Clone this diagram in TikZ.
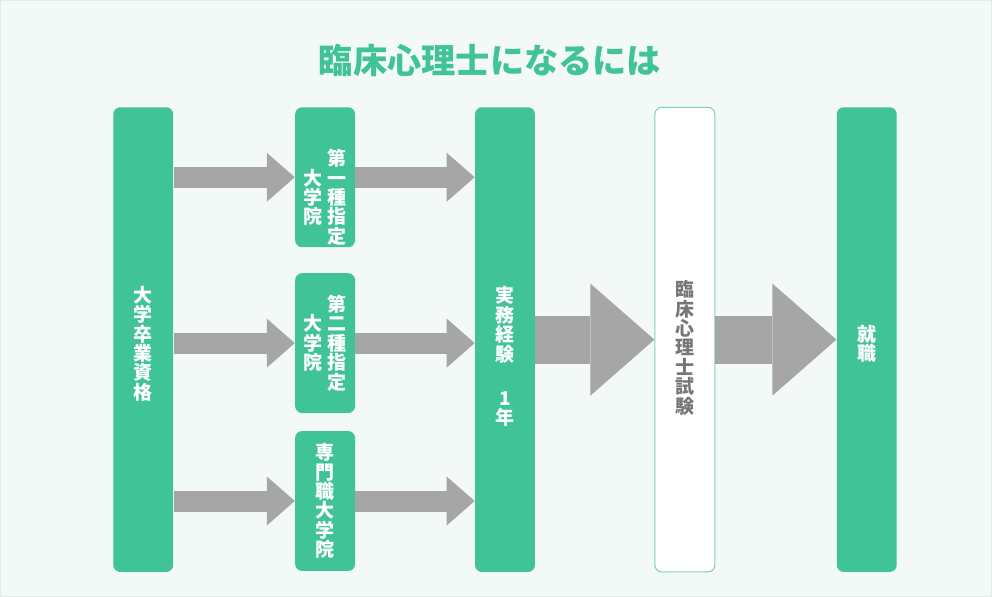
\documentclass[tikz,border=0pt]{standalone}
\usepackage{fontspec}
\setmainfont{Noto Sans CJK JP}
\usetikzlibrary{arrows.meta,positioning}
\definecolor{mint}{HTML}{40C397}
\definecolor{mintline}{HTML}{7FD1B5}
\definecolor{paper}{HTML}{F3F9F7}
\definecolor{paperline}{HTML}{E4ECE9}
\definecolor{arrowgray}{HTML}{A6A6A6}
\definecolor{examtext}{HTML}{777777}
\newcommand{\tate}[2][0pt]{\parbox[c]{1em}{\centering\vspace*{#1}#2}}
\tikzset{box/.style={rectangle,fill=mint,rounded corners=0.14cm,minimum width=1.2cm,inner sep=0pt,text=white,font=\bfseries\fontsize{10.8pt}{11.05pt}\selectfont}}
\tikzset{tall/.style={box,minimum height=9.3cm}}
\tikzset{short/.style={box,minimum height=2.8cm}}
\tikzset{exam/.style={tall,fill=white,draw=mintline,line width=0.6pt,text=examtext}}
\tikzset{flow/.style={draw=arrowgray,line width=0.42cm,-{Triangle[length=0.56cm,width=0.98cm,line width=0pt]}}}
\tikzset{bigflow/.style={draw=arrowgray,line width=0.96cm,-{Triangle[length=1.28cm,width=2.24cm,line width=0pt]}}}

\begin{document}
\begin{tikzpicture}[node distance=3.6cm]
    \fill[paper,draw=paperline] (0,0) rectangle (19.84,-11.92);

    \node[text=mint,font=\bfseries\fontsize{19.5pt}{23pt}\selectfont] (title) at (9.8,-1.2) {臨床心理士になるには};

    \node[tall] (grad) at (2.86,-6.79) {\tate[0.16cm]{大\\学\\卒\\業\\資\\格}};
    \node[tall,right of=grad,node distance=7.24cm] (prac) {\tate[0.68cm]{実\\務\\経\\験\\[0.5cm]1\\年}};
    \node[exam,right of=prac] (exam) {\tate[0.32cm]{臨\\床\\心\\理\\士\\試\\験}};
    \node[tall,right of=exam,node distance=3.64cm] (job) {\tate[0.16cm]{就\\職}};

    \node[short] (sch2) at (6.5,-6.86) {\tate{大\\学\\院}\hspace{0.1cm}\tate{第\\二\\種\\指\\定}};
    \node[short,above of=sch2,node distance=3.32cm] (sch1) {\tate[0.8cm]{大\\学\\院}\hspace{0.1cm}\tate[0.8cm]{第\\一\\種\\指\\定}};
    \node[short,below of=sch2,node distance=3.16cm] (sch3) {\tate{専\\門\\職\\大\\学\\院}};

        \path[flow] (grad.east |- sch1) -- (sch1);
        \path[flow] (grad.east |- sch2) -- (sch2);
        \path[flow] (grad.east |- sch3) -- (sch3);
        \path[flow] (sch1) -- (prac.west |- sch1);
        \path[flow] (sch2) -- (prac.west |- sch2);
        \path[flow] (sch3) -- (prac.west |- sch3);
        \path[bigflow] (prac) -- (exam);
        \path[bigflow] (exam) -- (job);
\end{tikzpicture}
\end{document}
